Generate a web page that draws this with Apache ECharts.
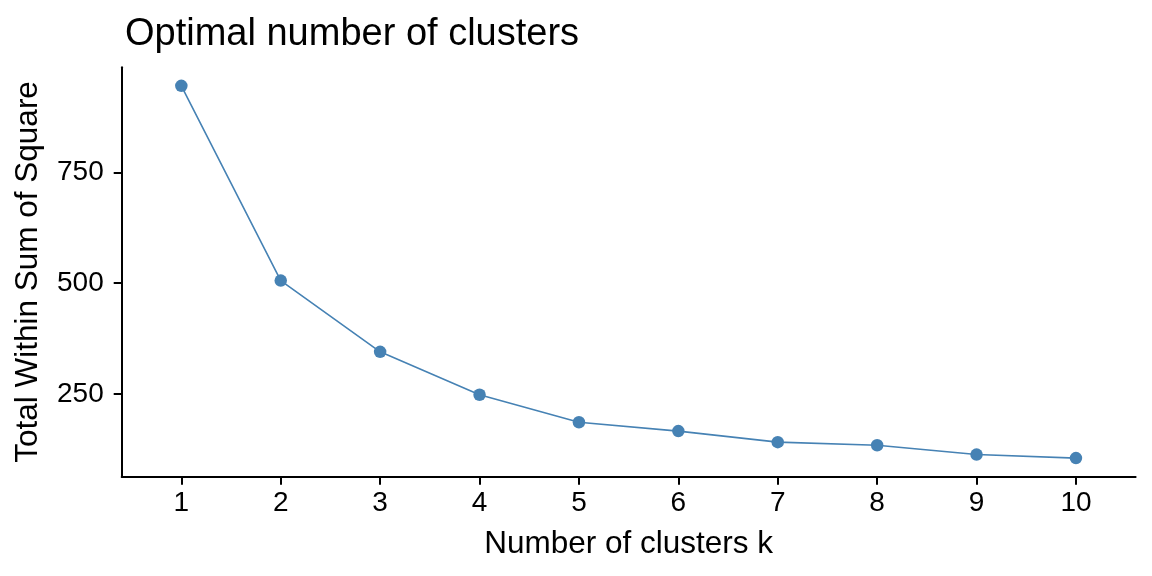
<!DOCTYPE html>
<html>
<head>
<meta charset="utf-8">
<script src="https://cdn.jsdelivr.net/npm/echarts@6/dist/echarts.min.js"></script>
<style>
html,body{margin:0;padding:0;background:#fff;}
#chart{width:1152px;height:576px;}
</style>
</head>
<body>
<div id="chart"></div>
<script>
var kValues = [1, 2, 3, 4, 5, 6, 7, 8, 9, 10];
var wss = [946, 506, 345, 248, 186, 166, 141, 134, 113, 105];
var yTicks = [250, 500, 750];
var titleText = 'Optimal number of clusters';
var xTitle = 'Number of clusters k';
var yTitle = 'Total Within Sum of Square';

var yMinData = Math.min.apply(null, wss), yMaxData = Math.max.apply(null, wss);
var yPad = 0.05 * (yMaxData - yMinData);
var xPad = 0.6;

var FONT = 'Liberation Sans, Arial, sans-serif';
var chart = echarts.init(document.getElementById('chart'), null, {renderer: 'canvas'});
chart.setOption({
  backgroundColor: '#ffffff',
  animation: false,
  title: {
    text: titleText,
    left: 120,
    top: 11,
    textStyle: {fontFamily: FONT, fontSize: 38, fontWeight: 'normal', color: '#000'}
  },
  grid: {left: 121.7, right: 16.4, top: 67.2, bottom: 99.3, containLabel: false},
  xAxis: {
    type: 'value',
    min: kValues[0] - xPad,
    max: kValues[kValues.length - 1] + xPad,
    name: xTitle,
    nameLocation: 'middle',
    nameGap: 52,
    nameTextStyle: {fontFamily: FONT, fontSize: 31.5, color: '#000'},
    axisLine: {show: true, onZero: false, lineStyle: {color: '#000', width: 2}},
    axisTick: {show: true, length: 8, lineStyle: {color: '#000', width: 2}, customValues: kValues},
    axisLabel: {fontFamily: FONT, fontSize: 28, color: '#000', margin: 13, customValues: kValues},
    splitLine: {show: false}
  },
  yAxis: {
    type: 'value',
    min: yMinData - yPad,
    max: yMaxData + yPad,
    name: yTitle,
    nameLocation: 'middle',
    nameRotate: 90,
    nameGap: 77,
    nameTextStyle: {fontFamily: FONT, fontSize: 31.5, color: '#000'},
    axisLine: {show: true, onZero: false, lineStyle: {color: '#000', width: 2}},
    axisTick: {show: true, length: 8, lineStyle: {color: '#000', width: 2}, customValues: yTicks},
    axisLabel: {fontFamily: FONT, fontSize: 28, color: '#000', margin: 18, customValues: yTicks},
    splitLine: {show: false}
  },
  series: [{
    type: 'line',
    data: kValues.map(function (k, i) { return [k, wss[i]]; }),
    symbol: 'circle',
    symbolSize: 12.5,
    lineStyle: {color: '#4682B4', width: 1.6},
    itemStyle: {color: '#4682B4'},
    emphasis: {disabled: true}
  }]
});
</script>
</body>
</html>
